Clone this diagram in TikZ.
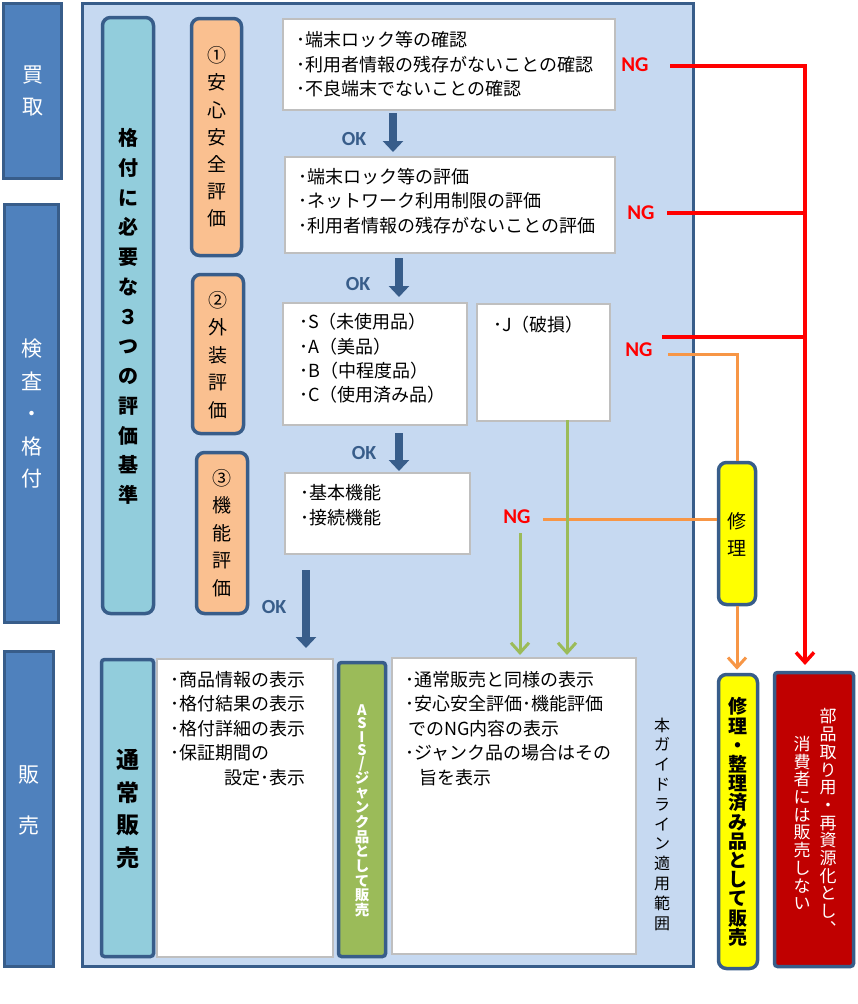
\documentclass[tikz,border=0pt]{standalone}
\usepackage{fontspec}
\setmainfont{Noto Sans CJK JP}
\newfontfamily\calib{Carlito}
\usetikzlibrary{arrows.meta}
\definecolor{dblue}{HTML}{385D8A}
\definecolor{mblue}{HTML}{4F81BD}
\definecolor{lblue}{HTML}{C6D9F1}
\definecolor{cyanb}{HTML}{92CDDC}
\definecolor{orangeb}{HTML}{FAC090}
\definecolor{greenb}{HTML}{9BBB59}
\definecolor{yelb}{HTML}{FFFF00}
\definecolor{redb}{HTML}{C00000}
\definecolor{redl}{HTML}{FF0000}
\definecolor{orl}{HTML}{F79646}
\definecolor{grayb}{HTML}{BFBFBF}
\tikzset{
  sidebox/.style={draw=dblue, line width=3pt, fill=mblue, inner sep=0pt},
  regionbox/.style={draw=dblue, line width=3.5pt, fill=lblue, inner sep=0pt},
  rbox/.style={draw=dblue, line width=3.5pt, rounded corners=8pt, inner sep=0pt},
  wbox/.style={draw=grayb, line width=2pt, fill=white, inner sep=0pt},
  body/.style={anchor=west, align=left, inner sep=0pt, font=\fontsize{18}{24.4}\selectfont},
  vstack/.style={align=center, inner sep=0pt},
  oklab/.style={inner sep=0pt, text=dblue, font=\calib\bfseries\fontsize{20}{20}\selectfont},
  nglab/.style={inner sep=0pt, text=redl, font=\calib\bfseries\fontsize{21}{21}\selectfont},
  okarrow/.style={draw=dblue, line width=8pt, -{Triangle[length=11pt,width=20pt]}},
  redline/.style={draw=redl, line width=3.5pt},
  orline/.style={draw=orl, line width=3pt},
  grline/.style={draw=greenb, line width=3pt},
  barb/.style={-{Straight Barb[length=10pt,width=18pt]}},
}
\begin{document}
\begin{tikzpicture}[x=1pt,y=-1pt]
\fill[white] (0,0) rectangle (857,1004);
\useasboundingbox (0,0) rectangle (857,1004);

% left column
\node[sidebox, minimum width=58pt, minimum height=175pt] (kaitori) at (32.5,91) {};
\node[vstack, text=white, font=\fontsize{21}{32}\selectfont] (kaitoriT) at (32.5,91) {買\\取};
\node[sidebox, minimum width=54pt, minimum height=418pt] (kensa) at (31.5,413.5) {};
\node[vstack, text=white, font=\fontsize{21}{32.5}\selectfont] (kensaT) at (31.5,414) {検\\査\\・\\格\\付};
\node[sidebox, minimum width=49pt, minimum height=315pt] (hanbai) at (29,809) {};
\node[vstack, text=white, font=\fontsize{21}{51}\selectfont] (hanbaiT) at (29,800) {販\\売};

% region
\node[regionbox, minimum width=611pt, minimum height=963pt] (region) at (388,485) {};

% criteria boxes
\node[rbox, fill=cyanb, minimum width=51pt, minimum height=596pt] (crit) at (128,315.5) {};
\node[vstack, font=\bfseries\fontsize{20}{29.75}\selectfont] (critT) at (128,316.5) {格\\付\\に\\必\\要\\な\\３\\つ\\の\\評\\価\\基\\準};
\node[rbox, fill=orangeb, minimum width=50pt, minimum height=237pt] (ev1) at (216.5,137) {};
\node[vstack, font=\fontsize{19}{27.2}\selectfont] (ev1T) at (216.5,137) {①\\安\\心\\安\\全\\評\\価};
\node[rbox, fill=orangeb, minimum width=51pt, minimum height=159pt] (ev2) at (218,354) {};
\node[vstack, font=\fontsize{19}{27.5}\selectfont] (ev2T) at (218,355) {②\\外\\装\\評\\価};
\node[rbox, fill=orangeb, minimum width=51pt, minimum height=161pt] (ev3) at (222,533) {};
\node[vstack, font=\fontsize{19}{27.5}\selectfont] (ev3T) at (222,533) {③\\機\\能\\評\\価};

% white boxes
\node[wbox, minimum width=332pt, minimum height=91pt] (box1) at (449,64.5) {};
\node[body] (box1T) at (296,64.5) {･端末ロック等の確認\\･利用者情報の残存がないことの確認\\･不良端末でないことの確認};
\node[wbox, minimum width=330pt, minimum height=96pt] (box2) at (450,205) {};
\node[body] (box2T) at (298,201) {･端末ロック等の評価\\･ネットワーク利用制限の評価\\･利用者情報の残存がないことの評価};
\node[wbox, minimum width=184pt, minimum height=122pt] (box3) at (375,364) {};
\node[body] (box3T) at (299,358.5) {･S（未使用品）\\･A（美品）\\･B（中程度品）\\･C（使用済み品）};
\node[wbox, minimum width=133pt, minimum height=117pt] (boxJ) at (543.5,362.5) {};
\node[body] (boxJT) at (493,325) {･J（破損）};
\node[wbox, minimum width=185pt, minimum height=81pt] (box4) at (377.5,513.5) {};
\node[body] (box4T) at (300,505) {･基本機能\\･接続機能};

% sales row
\node[rbox, rounded corners=3pt, fill=cyanb, minimum width=52pt, minimum height=297pt] (tsujo) at (127.5,808) {};
\node[vstack, font=\bfseries\fontsize{23}{32.7}\selectfont] (tsujoT) at (127.5,809) {通\\常\\販\\売};
\node[wbox, minimum width=176pt, minimum height=298pt] (boxL) at (245,808) {};
\node[body] (boxLT) at (170,728.5) {･商品情報の表示\\･格付結果の表示\\･格付詳細の表示\\･保証期間の\\\hspace*{54pt}設定･表示};
\node[rbox, rounded corners=3pt, fill=greenb, minimum width=47pt, minimum height=294pt] (asis) at (362,809.5) {};
\node[vstack, text=white, font=\bfseries\fontsize{14.5}{14.7}\selectfont] (asisT) at (362,811) {A\\[-1.5pt]S\\[-1.5pt]I\\[-1.5pt]S\\[-1.5pt]/\\ジ\\ャ\\ン\\ク\\品\\と\\し\\て\\販\\売};
\node[wbox, minimum width=244pt, minimum height=296pt] (boxR) at (514,806) {};
\node[body] (boxRT) at (405,728.5) {･通常販売と同様の表示\\･安心安全評価･機能評価\\\hspace*{3pt}でのNG内容の表示\\･ジャンク品の場合はその\\\hspace*{14pt}旨を表示};
\node[vstack, font=\fontsize{16}{19.8}\selectfont] (guide) at (662,824) {本\\ガ\\イ\\ド\\ラ\\イ\\ン\\適\\用\\範\\囲};

% right column
\node[rbox, fill=yelb, minimum width=37pt, minimum height=142pt] (shuri) at (737,533.5) {};
\node[vstack, font=\fontsize{19}{27}\selectfont] (shuriT) at (737,534) {修\\理};
\node[rbox, fill=yelb, minimum width=39pt, minimum height=294pt] (shuri2) at (738,821.5) {};
\node[vstack, font=\bfseries\fontsize{19}{19.2}\selectfont] (shuri2T) at (738,822) {修\\理\\・\\整\\理\\済\\み\\品\\と\\し\\て\\販\\売};
\node[draw=dblue, line width=3.5pt, rounded corners=3pt, fill=redb, minimum width=79pt, minimum height=294pt, inner sep=0pt] (parts) at (814,819.5) {};
\node[vstack, text=white, font=\fontsize{17}{17.7}\selectfont] (partsR) at (828,822) {部\\品\\取\\り\\用\\・\\再\\資\\源\\化\\と\\し\\︑};
\node[vstack, text=white, font=\fontsize{17}{17.7}\selectfont] (partsL) at (802,823) {消\\費\\者\\に\\は\\販\\売\\し\\な\\い};

% OK labels and arrows
\node[oklab] (ok1) at (354,139) {OK};
\node[oklab] (ok2) at (358,284) {OK};
\node[oklab] (ok3) at (364,453) {OK};
\node[oklab] (ok4) at (274,607) {OK};
\coordinate (a1s) at (393,113); \coordinate (a1e) at (393,152);
\coordinate (a2s) at (399,258); \coordinate (a2e) at (399,297);
\coordinate (a3s) at (399,433); \coordinate (a3e) at (399,471);
\coordinate (a4s) at (306,570); \coordinate (a4e) at (306,648);
\draw[okarrow] (a1s) -- (a1e);
\draw[okarrow] (a2s) -- (a2e);
\draw[okarrow] (a3s) -- (a3e);
\draw[okarrow] (a4s) -- (a4e);

% NG labels
\node[nglab] (ng1) at (635,65) {NG};
\node[nglab] (ng2) at (641,213) {NG};
\node[nglab] (ng3) at (639,350) {NG};
\node[nglab] (ng4) at (517,517) {NG};

% red connectors
\coordinate (r1s) at (670,66);
\coordinate (r2s) at (667,213);
\coordinate (r3s) at (662,337);
\coordinate (rtip) at (805,665);
\draw[redline, barb] (r1s) -| (rtip);
\draw[redline] (r2s) -- ([xshift=1.7pt]r2s -| rtip);
\draw[redline] (r3s) -- ([xshift=1.7pt]r3s -| rtip);

% orange connectors
\coordinate (o1s) at (668,354);
\coordinate (o2s) at (543,519);
\draw[orline] (o1s) -| (shuri.north);
\draw[orline] (o2s) -- (o2s -| shuri.west);
\draw[orline, barb, shorten >=3pt] (shuri.south) -- (shuri.south |- shuri2.north);

% green connectors
\coordinate (g1s) at (567,420);
\coordinate (g2s) at (520,533);
\draw[grline, barb, shorten >=2pt] (g1s) -- (g1s |- boxR.north);
\draw[grline, barb, shorten >=2pt] (g2s) -- (g2s |- boxR.north);
\end{tikzpicture}
\end{document}
